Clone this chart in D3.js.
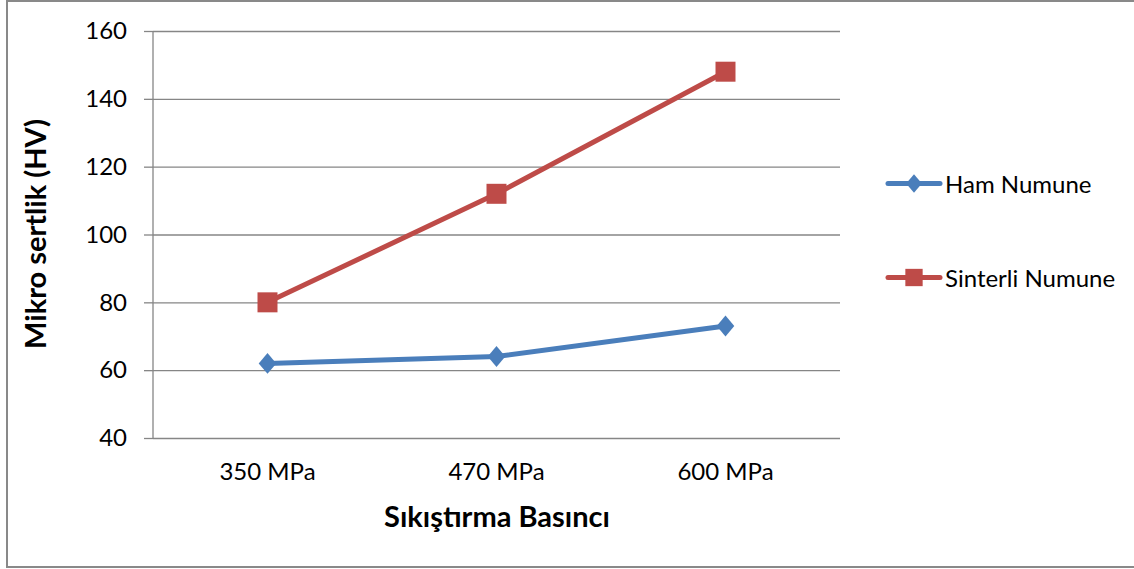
<!DOCTYPE html>
<html><head><meta charset="utf-8">
<script src="https://cdn.jsdelivr.net/npm/d3@7"></script>
<style>body{margin:0;background:#fff}svg{display:block}</style>
</head><body>
<script>
const categories = ["350 MPa", "470 MPa", "600 MPa"];
const hamValues = [62, 64, 73];
const sinterliValues = [80, 112, 148];
const seriesNames = ["Ham Numune", "Sinterli Numune"];
const yTicks = [40, 60, 80, 100, 120, 140, 160];

const W = 1134, H = 569;
const font = "Lato, 'Open Sans', sans-serif";
const svg = d3.select("body").append("svg").attr("width", W).attr("height", H);

svg.append("rect").attr("x", 7).attr("y", 1).attr("width", 1140).attr("height", 566)
  .attr("fill", "#fff").attr("stroke", "#898989").attr("stroke-width", 2);

const m = {left: 153, right: 840, top: 31, bottom: 438};
const x = d3.scaleBand().domain(categories).range([m.left, m.right]);
const y = d3.scaleLinear().domain([40, 160]).range([m.bottom, m.top]);

// custom diamond (a bit taller than wide, like the reference)
const diamond = {
  draw(ctx, size) {
    const w = Math.sqrt(size) * 0.47, h = Math.sqrt(size) * 0.56;
    ctx.moveTo(0, -h); ctx.lineTo(w, 0); ctx.lineTo(0, h); ctx.lineTo(-w, 0); ctx.closePath();
  }
};

// gridlines + y axis
const yAxis = d3.axisLeft(y).tickValues(yTicks).tickSize(9).tickPadding(17);
const gy = svg.append("g").attr("transform", `translate(${m.left},0)`).call(yAxis);
gy.select(".domain").remove();
gy.selectAll(".tick line").attr("stroke", "#868686").attr("stroke-width", 1.3)
  .clone().attr("x1", 0).attr("x2", m.right - m.left);
gy.selectAll(".tick text").attr("font-family", font).attr("font-size", 24).attr("fill", "#000");

// y axis line
svg.append("line").attr("x1", m.left).attr("x2", m.left).attr("y1", m.top).attr("y2", m.bottom)
  .attr("stroke", "#868686").attr("stroke-width", 1.3);

// x axis labels
const xAxis = d3.axisBottom(x).tickSize(0).tickPadding(25);
const gx = svg.append("g").attr("transform", `translate(0,${m.bottom})`).call(xAxis);
gx.select(".domain").remove();
gx.selectAll(".tick text").attr("font-family", font).attr("font-size", 24).attr("fill", "#000");

// axis titles
svg.append("text").attr("x", 497).attr("y", 527).attr("text-anchor", "middle")
  .attr("font-family", font).attr("font-weight", "bold").attr("font-size", 29).attr("fill", "#000")
  .text("Sıkıştırma Basıncı");
svg.append("text").attr("transform", "translate(46,234) rotate(-90)").attr("text-anchor", "middle")
  .attr("font-family", font).attr("font-weight", "bold").attr("font-size", 29).attr("fill", "#000")
  .text("Mikro sertlik (HV)");

const cx = d => x(d) + x.bandwidth() / 2;
const line = d3.line().x(d => cx(d.c)).y(d => y(d.v));

const series = [
  {name: seriesNames[0], values: hamValues, color: "#4a7ebb", shape: diamond, size: 350, legSize: 280},
  {name: seriesNames[1], values: sinterliValues, color: "#be4b48", shape: d3.symbolSquare, size: 400, legSize: 300}
];

series.forEach(s => {
  const pts = categories.map((c, i) => ({c, v: s.values[i]}));
  svg.append("path").datum(pts).attr("d", line).attr("fill", "none")
    .attr("stroke", s.color).attr("stroke-width", 5).attr("stroke-linejoin", "round").attr("stroke-linecap", "round");
  svg.selectAll(null).data(pts).enter().append("path")
    .attr("d", d3.symbol().type(s.shape).size(s.size))
    .attr("transform", d => `translate(${cx(d.c)},${y(d.v)})`)
    .attr("fill", s.color);
});

// legend
const legY = [183.5, 277.5];
series.forEach((s, i) => {
  const g = svg.append("g").attr("transform", `translate(0,${legY[i]})`);
  g.append("line").attr("x1", 888).attr("x2", 940).attr("y1", 0).attr("y2", 0)
    .attr("stroke", s.color).attr("stroke-width", 5).attr("stroke-linecap", "round");
  g.append("path").attr("d", d3.symbol().type(s.shape).size(s.legSize))
    .attr("transform", "translate(914,0)").attr("fill", s.color);
  g.append("text").attr("x", 945).attr("y", 9.5).attr("font-family", font).attr("font-size", 24)
    .attr("fill", "#000").text(s.name);
});
</script>
</body></html>
